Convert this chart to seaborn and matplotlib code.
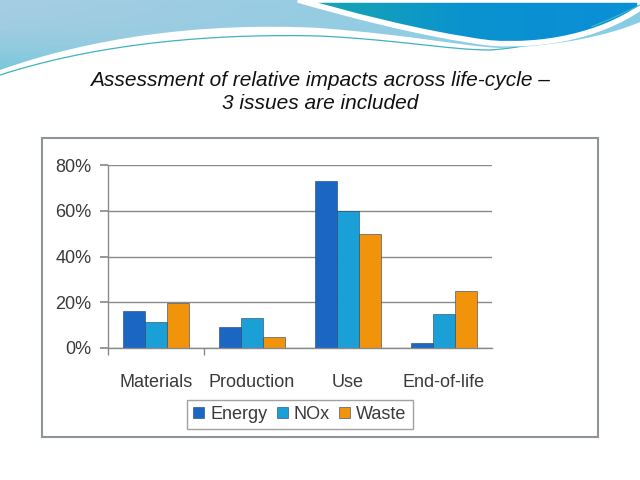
import numpy as np
import pandas as pd
import matplotlib
matplotlib.use("Agg")
import matplotlib.pyplot as plt
from matplotlib.path import Path
from matplotlib.patches import PathPatch, Rectangle
import matplotlib.colors as mcolors
import seaborn as sns

# ---- data ----
stages = ["Materials", "Production", "Use", "End-of-life"]
issues = ["Energy", "NOx", "Waste"]
energy = [16, 9, 73, 2]
nox = [11.5, 13, 60, 15]
waste = [19.5, 5, 50, 25]
yticks = [0, 20, 40, 60, 80]
title = "Assessment of relative impacts across life-cycle \u2013\n3 issues are included"

colors = {"Energy": "#1a66c2", "NOx": "#1a9fd6", "Waste": "#f2930c"}

df = pd.DataFrame({
    "stage": stages * 3,
    "issue": [i for i in issues for _ in stages],
    "value": energy + nox + waste,
})

sns.set_theme(style="white")
plt.rcParams["font.family"] = ["Liberation Sans", "DejaVu Sans"]

W, H = 640, 480
fig = plt.figure(figsize=(6.4, 4.8), dpi=100)
fig.patch.set_facecolor("white")

# ---- background decoration ----
bg = fig.add_axes([0, 0, 1, 1], zorder=0)
bg.axis("off")

C4 = Path.CURVE4
light = Path(
    [(0, 0), (640, 0), (640, 22),
     (610, 35), (560, 46), (500, 48),
     (460, 46), (420, 36), (320, 28),
     (200, 22), (90, 38), (0, 70), (0, 0)],
    [Path.MOVETO, Path.LINETO, Path.LINETO,
     C4, C4, C4, C4, C4, C4, C4, C4, C4, Path.CLOSEPOLY])
lp = PathPatch(light, facecolor="none", edgecolor="none")
bg.add_patch(lp)
xs = np.linspace(0, 1, 320)[None, :]
ys = np.linspace(0, 1, 50)[:, None]
top_l = np.array(mcolors.to_rgb("#a6cde2"))
top_r = np.array(mcolors.to_rgb("#86cde4"))
cyan = np.array(mcolors.to_rgb("#46c2d2"))
base = top_l * (1 - xs[..., None]) + top_r * xs[..., None]
wgt = (ys ** 2 * np.clip(1 - xs * 1.6, 0, 1))[..., None]
img = base * (1 - wgt) + cyan * wgt
im = bg.imshow(img, extent=[0, W, 100, 0], aspect="auto", zorder=1)
im.set_clip_path(lp)

# thin teal line
t = np.linspace(0, 1, 80)[:, None]
def bez(p0, p1, p2, p3):
    p0, p1, p2, p3 = map(np.array, (p0, p1, p2, p3))
    return (1 - t) ** 3 * p0 + 3 * (1 - t) ** 2 * t * p1 + 3 * (1 - t) * t ** 2 * p2 + t ** 3 * p3
line = np.vstack([
    bez((0, 75), (90, 46), (200, 33), (320, 36)),
    bez((320, 36), (400, 40), (450, 50), (490, 50)),
    bez((490, 50), (550, 46), (600, 25), (640, 5)),
])
bg.plot(line[:, 0], line[:, 1], color="#3fb3c0", lw=0.9, zorder=2)

# dark region
dark = Path(
    [(298, 0), (340, 12), (420, 34), (490, 43),
     (545, 47), (600, 35), (640, 8), (640, 0), (298, 0)],
    [Path.MOVETO, C4, C4, C4, C4, C4, C4, Path.LINETO, Path.CLOSEPOLY])
dp = PathPatch(dark, facecolor="none", edgecolor="none")
bg.add_patch(dp)
g = np.linspace(0, 1, 256).reshape(1, -1)
cmap = mcolors.LinearSegmentedColormap.from_list("d", ["#19a8ae", "#0a92d0", "#0c8fd6"])
im2 = bg.imshow(g, extent=[298, W, 100, 0], cmap=cmap, aspect="auto", zorder=3)
im2.set_clip_path(dp)
bg.add_patch(PathPatch(dark, facecolor="none", edgecolor="white", lw=4, zorder=4))
bg.plot(line[-30:, 0], line[-30:, 1], color="#3fbcc4", lw=0.8, zorder=5)
bg.set_xlim(0, W)
bg.set_ylim(H, 0)

# chart frame
bg.add_patch(Rectangle((42, 138), 556, 299, facecolor="white",
                       edgecolor="#8c949c", lw=1.5, zorder=6))

# title
fig.text(0.5, 1 - 92 / H, title, ha="center", va="center",
         fontsize=15, style="italic", color="#111111", linespacing=1.3)

# ---- chart ----
ax = fig.add_axes([108 / W, 1 - 348 / H, 384 / W, 183 / H], zorder=2)
ax.patch.set_alpha(0)
sns.barplot(data=df, x="stage", y="value", hue="issue", order=stages,
            hue_order=issues, palette=colors, width=0.68, ax=ax,
            edgecolor="#1d3f6e", linewidth=0.4, saturation=1, errorbar=None)

ax.set_ylim(0, 80)
ax.set_xlim(-0.5, 3.5)
ax.set_yticks(yticks)
ax.set_yticklabels([f"{v}%" for v in yticks])
ax.yaxis.grid(True, color="#8a8a8a", lw=1)
ax.set_axisbelow(True)
ax.set_xlabel("")
ax.set_ylabel("")
for s in ["top", "right"]:
    ax.spines[s].set_visible(False)
for s in ["left", "bottom"]:
    ax.spines[s].set_color("#8a8a8a")
    ax.spines[s].set_linewidth(1)
ax.tick_params(axis="y", left=True, length=6, color="#8a8a8a",
               labelsize=13, labelcolor="#3a3a3a", pad=6)
ax.set_xticks([0, 1, 2, 3])
ax.set_xticklabels(stages)
ax.tick_params(axis="x", bottom=False, labelsize=13, labelcolor="#3a3a3a", pad=13)
ax.set_xticks([-0.5, 0.5], minor=True)
ax.tick_params(axis="x", which="minor", bottom=True, length=5, color="#8a8a8a")

leg = ax.legend(loc="center", bbox_to_anchor=(300 / W, 1 - 414.5 / H),
                bbox_transform=fig.transFigure, ncol=3, frameon=True,
                fancybox=False, fontsize=13, handlelength=0.6,
                handleheight=0.6, handletextpad=0.35, columnspacing=0.5,
                borderpad=0.35, borderaxespad=0, labelcolor="#3a3a3a")
leg.get_frame().set_edgecolor("#8a8a8a")
leg.get_frame().set_linewidth(1)

fig.savefig("out.png", dpi=100)
